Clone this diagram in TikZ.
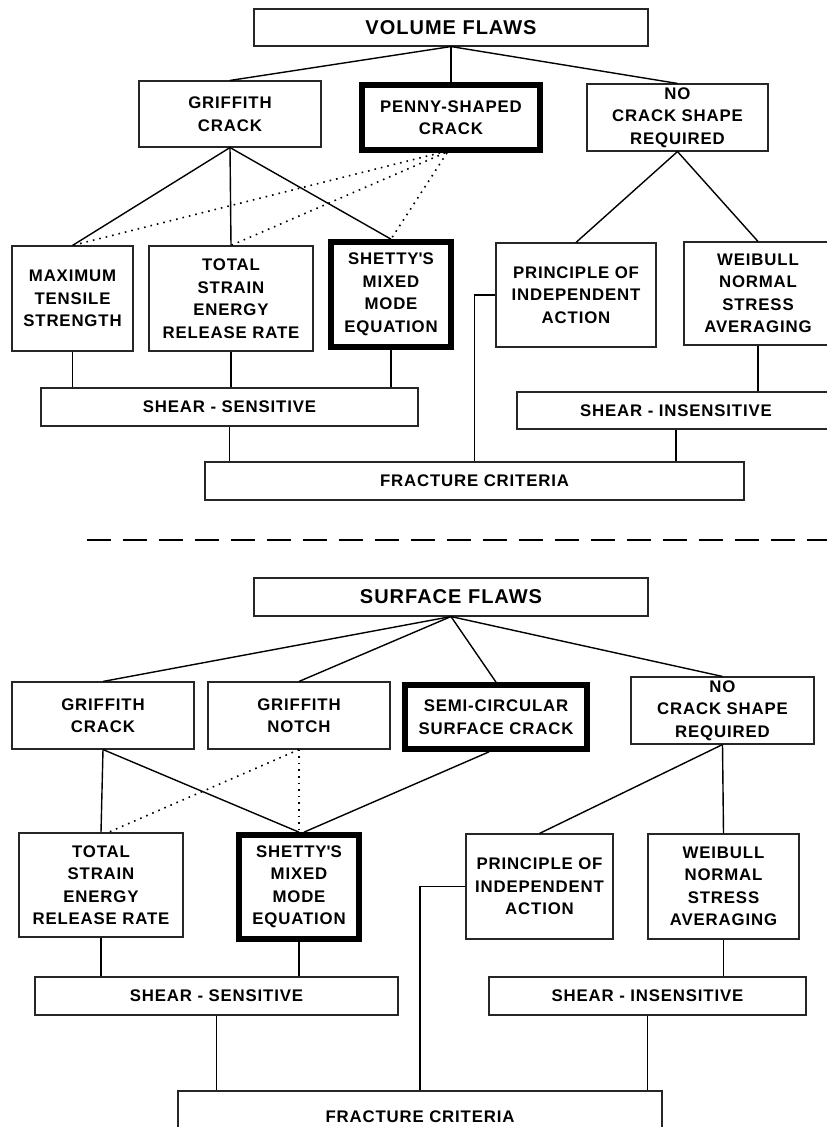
\documentclass[tikz,border=0pt]{standalone}
\usepackage{fontspec}
\setmainfont{Liberation Sans}[LetterSpace=5]
\usepackage{tikz}
\usetikzlibrary{shapes,arrows,positioning,calc}

\begin{document}
\begin{tikzpicture}[x=1pt, y=-1pt,
    every node/.style={font=\bfseries\fontsize{16.8}{22.5}\selectfont, align=center, inner sep=0pt},
    crit/.style={draw=black!85, line width=1.1pt},
    chosen/.style={draw, line width=5.7pt},
    heading/.style={crit, font=\bfseries\fontsize{20}{24}\selectfont},
    link/.style={line width=1.4pt},
    alt/.style={line width=1.6pt, dash pattern=on 1.6pt off 5pt}]
    \useasboundingbox (0,0) rectangle (827,1127);

    % Volume flaws
    \node[heading, minimum width=394, minimum height=37] (vf) at (451,27.5) {VOLUME FLAWS};
    \node[crit, minimum width=182, minimum height=66] (grif) at (230,114) {GRIFFITH\\CRACK};
    \node[chosen, minimum width=178, minimum height=65] (penny) at (451,117.5) {PENNY-SHAPED\\CRACK};
    \node[crit, minimum width=181, minimum height=67] (noshape) at (677.5,117.5) {NO\\CRACK SHAPE\\REQUIRED};

    \node[crit, minimum width=121, minimum height=105] (maxts) at (72.5,298.5) {MAXIMUM\\TENSILE\\STRENGTH};
    \node[crit, minimum width=164, minimum height=105] (tserr) at (231,298.5) {TOTAL\\STRAIN\\ENERGY\\RELEASE RATE};
    \node[chosen, minimum width=120, minimum height=105] (shetty) at (391,294.5) {SHETTY\textquotesingle S\\MIXED\\MODE\\EQUATION};
    \node[crit, minimum width=160, minimum height=104] (pia) at (576,295) {PRINCIPLE OF\\INDEPENDENT\\ACTION};
    \node[crit, minimum width=148, minimum height=103] (weib) at (758,293.5) {WEIBULL\\NORMAL\\STRESS\\AVERAGING};

    \node[crit, minimum width=377, minimum height=38] (sens) at (229.5,407) {SHEAR - SENSITIVE};
    \node[crit, minimum width=318, minimum height=37] (insens) at (676,410.5) {SHEAR - INSENSITIVE};
    \node[crit, minimum width=539, minimum height=38] (frac) at (474.5,481) {FRACTURE CRITERIA};

    \draw[link] (vf.south) -- (grif.north);
    \draw[link] (vf.south) -- (penny.north);
    \draw[link] (vf.south) -- (noshape.north);
    \draw[link] (grif.south) -- (maxts.north);
    \draw[link] (grif.south) -- (tserr.north);
    \draw[link] (grif.south) -- (shetty.north);
    \draw[alt] ($(penny.south)+(-11,0)$) -- (maxts.north);
    \draw[alt] ($(penny.south)+(-6,0)$) -- (tserr.north);
    \draw[alt] ($(penny.south)+(-4,0)$) -- (shetty.north);
    \draw[link] (noshape.south) -- (pia.north);
    \draw[link] (noshape.south) -- (weib.north);

    \draw[link] (maxts.south) -- (maxts.south |- sens.north);
    \draw[link] (tserr.south) -- (tserr.south |- sens.north);
    \draw[link] (shetty.south) -- (shetty.south |- sens.north);
    \draw[link] (weib.south) -- (weib.south |- insens.north);
    \draw[link] (sens.south) -- (sens.south |- frac.north);
    \draw[link] (insens.south) -- (insens.south |- frac.north);
    \draw[link] (pia.west) -| (frac.north);

    % Divider
    \draw[line width=2.5pt, dash pattern=on 24pt off 12pt] (87,540) -- (840,540);

    % Surface flaws
    \node[heading, minimum width=394, minimum height=38] (sf) at (451,597) {SURFACE FLAWS};
    \node[crit, minimum width=182, minimum height=67] (grif2) at (103,715.5) {GRIFFITH\\CRACK};
    \node[crit, minimum width=182, minimum height=67] (notch) at (299,715.5) {GRIFFITH\\NOTCH};
    \node[chosen, minimum width=182, minimum height=64] (semi) at (496,717) {SEMI-CIRCULAR\\SURFACE CRACK};
    \node[crit, minimum width=183, minimum height=67] (noshape2) at (722.5,710.5) {NO\\CRACK SHAPE\\REQUIRED};

    \node[crit, minimum width=164, minimum height=104] (tserr2) at (101,885) {TOTAL\\STRAIN\\ENERGY\\RELEASE RATE};
    \node[chosen, minimum width=120, minimum height=104] (shetty2) at (299,887) {SHETTY\textquotesingle S\\MIXED\\MODE\\EQUATION};
    \node[crit, minimum width=147, minimum height=105] (pia2) at (539.5,886.5) {PRINCIPLE OF\\INDEPENDENT\\ACTION};
    \node[crit, minimum width=151, minimum height=105] (weib2) at (723.5,886.5) {WEIBULL\\NORMAL\\STRESS\\AVERAGING};

    \node[crit, minimum width=363, minimum height=38] (sens2) at (216.5,996) {SHEAR - SENSITIVE};
    \node[crit, minimum width=317, minimum height=38] (insens2) at (647.5,996) {SHEAR - INSENSITIVE};
    \node[crit, minimum width=484, minimum height=52] (frac2) at (420,1117) {FRACTURE CRITERIA};

    \draw[link] (sf.south) -- (grif2.north);
    \draw[link] (sf.south) -- (notch.north);
    \draw[link] (sf.south) -- (semi.north);
    \draw[link] (sf.south) -- (noshape2.north);
    \draw[link] (grif2.south) -- (tserr2.north);
    \draw[link] (grif2.south) -- (shetty2.north);
    \draw[link] ($(semi.south)+(-7,0)$) -- ($(shetty2.north)+(5,0)$);
    \draw[alt] (notch.south) -- ($(tserr2.north)+(7,0)$);
    \draw[alt] (notch.south) -- (shetty2.north);
    \draw[link] (noshape2.south) -- (pia2.north);
    \draw[link] (noshape2.south) -- (weib2.north);

    \draw[link] (tserr2.south) -- (tserr2.south |- sens2.north);
    \draw[link] (shetty2.south) -- (shetty2.south |- sens2.north);
    \draw[link] (weib2.south) -- (weib2.south |- insens2.north);
    \draw[link] (sens2.south) -- (sens2.south |- frac2.north);
    \draw[link] (insens2.south) -- (insens2.south |- frac2.north);
    \draw[link] (pia2.west) -| (frac2.north);
\end{tikzpicture}
\end{document}
